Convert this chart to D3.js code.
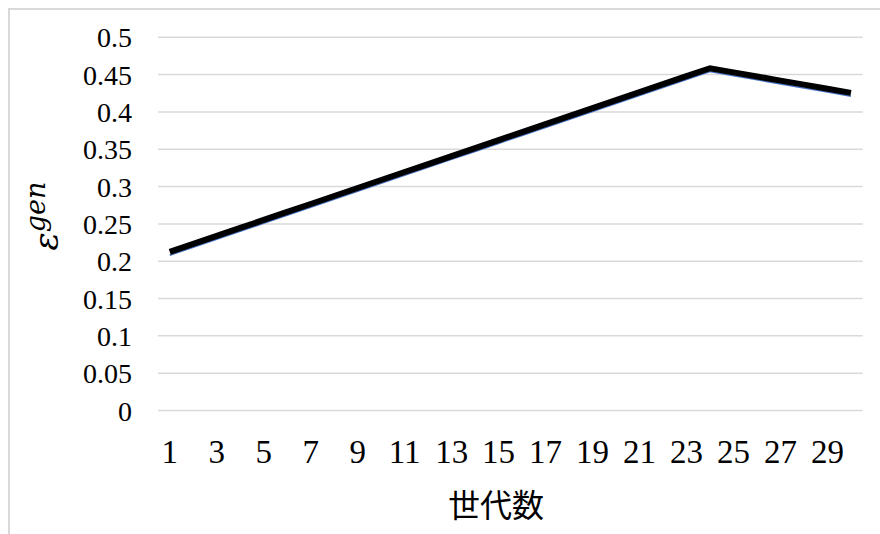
<!DOCTYPE html>
<html><head><meta charset="utf-8">
<script src="https://cdn.jsdelivr.net/npm/d3@7"></script>
<style>
html,body{margin:0;padding:0;background:#fff;}
svg{display:block;}
</style></head>
<body>
<svg id="c" width="880" height="534"></svg>
<script>
const categories = d3.range(1, 31).map(String);
const xTickLabels = ["1","3","5","7","9","11","13","15","17","19","21","23","25","27","29"];
const yTicks = [0,0.05,0.1,0.15,0.2,0.25,0.3,0.35,0.4,0.45,0.5];
const seriesBlack = [0.2125,0.2232,0.2339,0.2446,0.2553,0.2660,0.2767,0.2874,0.2981,0.3088,
  0.3195,0.3302,0.3409,0.3516,0.3623,0.3730,0.3837,0.3944,0.4051,0.4158,
  0.4265,0.4372,0.4479,0.4585,0.4530,0.4475,0.4420,0.4366,0.4311,0.4256];
const seriesBlue = [0.2080,0.2187,0.2294,0.2401,0.2508,0.2615,0.2722,0.2829,0.2936,0.3043,
  0.3150,0.3257,0.3364,0.3471,0.3578,0.3685,0.3792,0.3899,0.4006,0.4113,
  0.4220,0.4327,0.4434,0.4540,0.4485,0.4430,0.4375,0.4321,0.4266,0.4211];
const xTitle = "世代数";

const svg = d3.select("#c");
const L = 158, R = 862.7, T = 37.3, B = 410.5;

// outer frame
svg.append("path").attr("d", `M9,534 V9 H880`).attr("fill","none")
  .attr("stroke","#d9d9d9").attr("stroke-width",2);

const x = d3.scaleBand().domain(categories).range([L, R]);
const y = d3.scaleLinear().domain([0, 0.5]).range([B, T]);

// gridlines
svg.append("g").selectAll("line").data(yTicks).join("line")
  .attr("x1", L).attr("x2", R)
  .attr("y1", d => y(d)).attr("y2", d => y(d))
  .attr("stroke", "#d9d9d9").attr("stroke-width", 1.5);

// y axis labels
const yAxis = d3.axisLeft(y).tickValues(yTicks).tickSize(0).tickPadding(0)
  .tickFormat(d => String(+d.toFixed(2)));
const gy = svg.append("g").attr("transform", `translate(${L-26},0)`).call(yAxis);
gy.select(".domain").remove();
gy.selectAll("text").attr("font-family","'Liberation Serif', 'Times New Roman', serif")
  .attr("font-size", 28).attr("fill","#000").attr("dy","0.34em");

// x axis labels
const xAxis = d3.axisBottom(x).tickValues(xTickLabels).tickSize(0).tickPadding(0);
const gx = svg.append("g").attr("transform", `translate(0,462.5)`).call(xAxis);
gx.select(".domain").remove();
gx.selectAll("text").attr("font-family","'Liberation Serif', 'Times New Roman', serif")
  .attr("font-size", 33).attr("fill","#000").attr("y", 0).attr("dy", 0);

const cx = d => x(d) + x.bandwidth()/2;
const line = d3.line().x((d,i) => cx(categories[i])).y(d => y(d));

svg.append("path").datum(seriesBlue).attr("d", line).attr("fill","none")
  .attr("stroke","#4472c4").attr("stroke-width",1.5).attr("stroke-linejoin","round");
svg.append("path").datum(seriesBlack).attr("d", line).attr("fill","none")
  .attr("stroke","#000").attr("stroke-width",6).attr("stroke-linejoin","miter");

// x title
svg.append("text").attr("x", 496).attr("y", 517).attr("text-anchor","middle")
  .attr("font-family","'Noto Sans CJK JP', sans-serif").attr("font-size", 32)
  .attr("fill","#000").text(xTitle);

// y title
const yt = svg.append("text").attr("transform","translate(58,216) rotate(-90)")
  .attr("text-anchor","middle").attr("font-family","'DejaVu Serif', serif")
  .attr("font-style","italic").attr("fill","#000");
yt.append("tspan").attr("font-size", 34).text("ε");
yt.append("tspan").attr("font-size", 27).attr("dy", -13).text("gen");
</script>
</body></html>
